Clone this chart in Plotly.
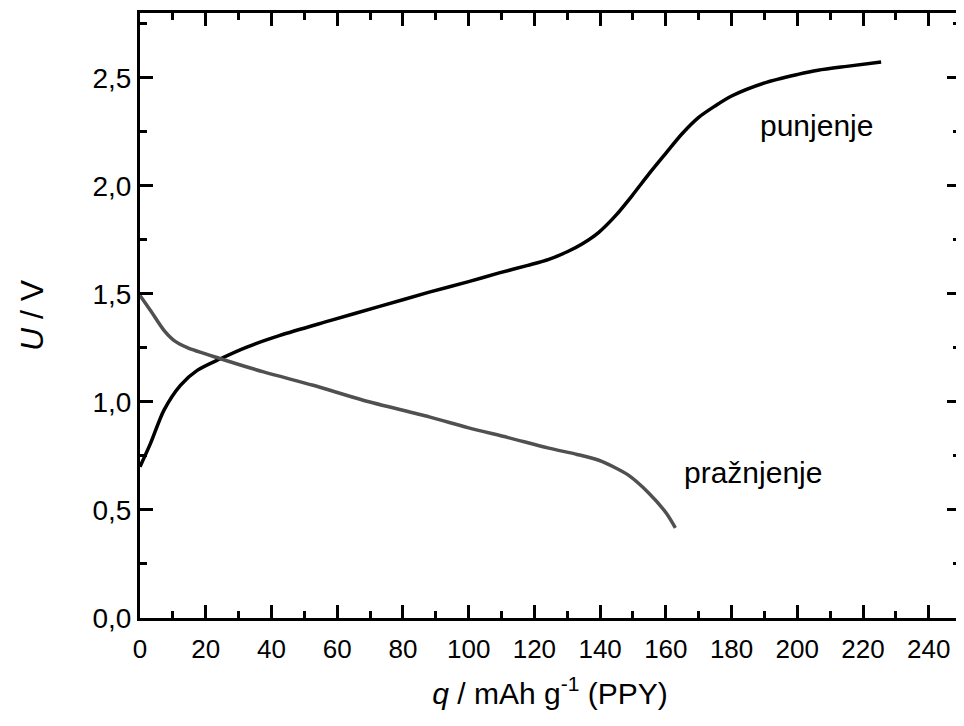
import plotly.graph_objects as go

# charge curve (punjenje)
q_charge = [0, 3.2, 7.3, 12.3, 17.4, 24.5, 32.5, 42.6, 57.8, 72.9, 88, 100, 109.3, 118,
            124.4, 130, 134.5, 139.6, 144.7, 149.7, 154.8, 159.8, 164.8, 169.9, 175, 180,
            190.1, 200.2, 206.3, 215, 225.5]
u_charge = [0.70, 0.808, 0.962, 1.077, 1.146, 1.200, 1.254, 1.308, 1.376, 1.442, 1.508, 1.557,
            1.597, 1.632, 1.660, 1.695, 1.731, 1.785, 1.862, 1.954, 2.054, 2.147, 2.239, 2.316,
            2.370, 2.416, 2.477, 2.516, 2.535, 2.553, 2.573]

# discharge curve (pražnjenje)
q_dis = [0, 3.2, 7.3, 10.3, 14.4, 24.5, 37.6, 52.7, 67.9, 88, 100, 112, 124.4, 133, 139.6,
         144, 148.7, 154.7, 160.1, 162.9]
u_dis = [1.493, 1.423, 1.331, 1.285, 1.251, 1.200, 1.139, 1.077, 1.008, 0.931, 0.880, 0.835,
         0.786, 0.757, 0.730, 0.700, 0.660, 0.580, 0.486, 0.417]

font = "Liberation Sans, Arial, sans-serif"

fig = go.Figure()
fig.add_trace(go.Scatter(x=q_charge, y=u_charge, mode="lines",
                         line=dict(color="black", width=3.5, shape="spline", smoothing=0.8)))
fig.add_trace(go.Scatter(x=q_dis, y=u_dis, mode="lines",
                         line=dict(color="#505050", width=3.5, shape="spline", smoothing=0.8)))

fig.add_annotation(x=205.7, y=2.28, text="punjenje", showarrow=False,
                   font=dict(family=font, size=30, color="black"))
fig.add_annotation(x=186.6, y=0.675, text="pražnjenje", showarrow=False,
                   font=dict(family=font, size=30, color="black"))

axis_common = dict(
    showgrid=False, zeroline=False, showline=True, linecolor="black", linewidth=3,
    mirror="allticks", ticks="inside", ticklen=13, tickwidth=3, tickcolor="black",
)

fig.update_xaxes(range=[0, 249.5], tick0=0, dtick=20, ticklabelstandoff=6,
                 tickfont=dict(family=font, size=26, color="black"),
                 minor=dict(ticks="inside", ticklen=7, tickwidth=3, tickcolor="black", dtick=10),
                 title=dict(text="<i>q</i> / mAh g<sup>-1</sup> (PPY)",
                            font=dict(family=font, size=30, color="black"), standoff=20),
                 **axis_common)
fig.update_yaxes(range=[0, 2.8], tick0=0, dtick=0.5, tickformat=".1f",
                 tickfont=dict(family=font, size=28, color="black"),
                 minor=dict(ticks="inside", ticklen=7, tickwidth=3, tickcolor="black", dtick=0.25),
                 title=dict(text="<i>U</i> / V",
                            font=dict(family=font, size=32, color="black"), standoff=40),
                 **axis_common)

# page has an 8px body margin, so the figure is shrunk and margins shifted to compensate
fig.update_layout(
    width=956, height=718,
    margin=dict(l=132, r=1, t=5, b=108),
    paper_bgcolor="white", plot_bgcolor="white",
    showlegend=False,
    separators=", ",
)

fig.write_html("out.html")
